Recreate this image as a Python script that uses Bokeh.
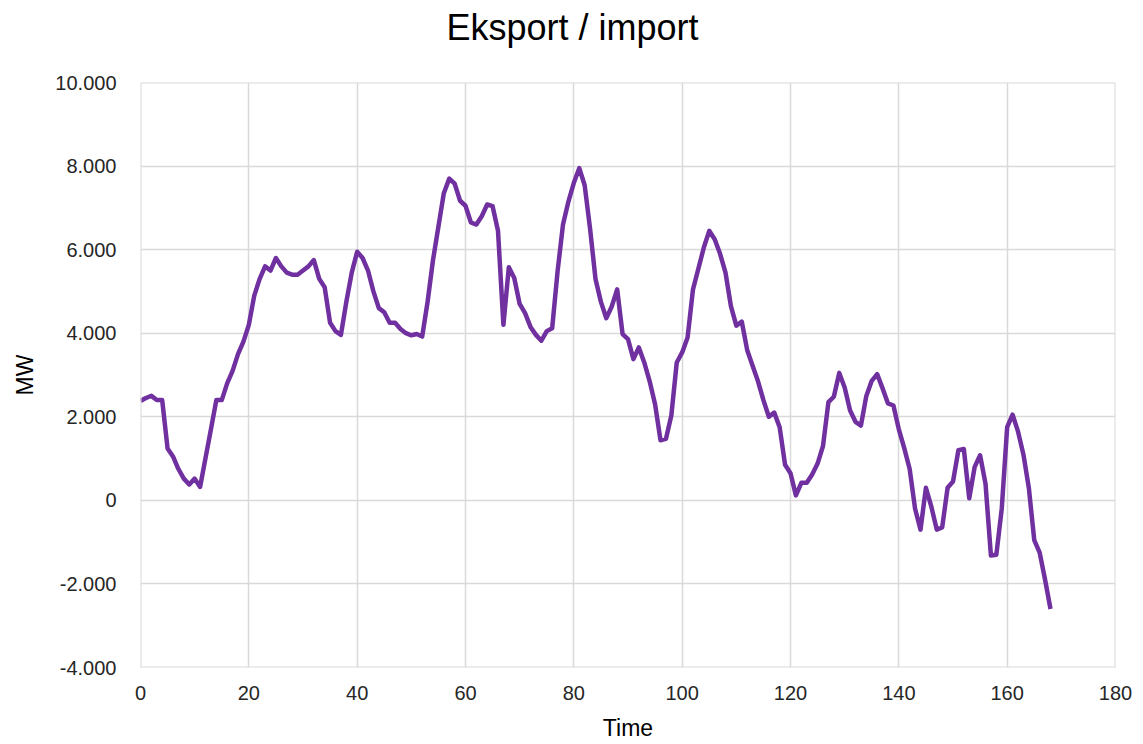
from bokeh.plotting import figure
from bokeh.models import Range1d, FixedTicker, ColumnDataSource, Span
from bokeh.embed import file_html
from bokeh.resources import INLINE

hours = list(range(169))
mw = [
    2380, 2450, 2500, 2400, 2400, 1240, 1050, 750, 520, 380,
    520, 320, 1010, 1700, 2400, 2400, 2800, 3100, 3500, 3800,
    4200, 4900, 5300, 5600, 5500, 5800, 5600, 5450, 5400, 5400,
    5500, 5600, 5750, 5300, 5100, 4250, 4050, 3960, 4750, 5450,
    5950, 5800, 5500, 5000, 4600, 4500, 4250, 4250, 4100, 4000,
    3950, 3980, 3920, 4750, 5750, 6550, 7350, 7700, 7580, 7170,
    7050, 6650, 6600, 6800, 7080, 7040, 6450, 4200, 5580, 5320,
    4700, 4480, 4150, 3960, 3820, 4050, 4120, 5480, 6600, 7150,
    7600, 7950, 7540, 6500, 5300, 4750, 4360, 4640, 5050, 3980,
    3860, 3380, 3660, 3300, 2850, 2300, 1440, 1470, 2030, 3300,
    3540, 3900, 5050, 5550, 6050, 6450, 6250, 5900, 5450, 4650,
    4180, 4280, 3600, 3220, 2850, 2400, 2000, 2100, 1750, 850,
    650, 120, 420, 420, 620, 880, 1300, 2350, 2480, 3050,
    2700, 2150, 1880, 1790, 2500, 2860, 3020, 2680, 2320, 2270,
    1700, 1250, 750, -200, -700, 300, -150, -700, -650, 300,
    450, 1200, 1230, 50, 800, 1080, 400, -1320, -1300, -200,
    1750, 2050, 1650, 1100, 300, -950, -1250, -1900, -2600,
]
x_ticks = [0, 20, 40, 60, 80, 100, 120, 140, 160, 180]
y_ticks = [-4000, -2000, 0, 2000, 4000, 6000, 8000, 10000]
y_tick_labels = ["-4.000", "-2.000", "0", "2.000", "4.000", "6.000", "8.000", "10.000"]
title_text = "Eksport / import"

FONT = "Liberation Sans"
GRID = "#d9d9d9"

p = figure(width=1143, height=744, output_backend="svg", toolbar_location=None,
           x_range=Range1d(0, 180), y_range=Range1d(-4000, 10000),
           min_border_left=140, min_border_right=28, min_border_top=82, min_border_bottom=77)
p.outline_line_color = None
p.background_fill_color = "white"
p.border_fill_color = "white"

# a blank second line gives the title box extra height below the text,
# which lifts the visible title towards the top of the page
p.title.text = title_text + "\n "
p.title.align = "left"
p.title.vertical_align = "top"
p.title.offset = 306
p.title.text_font = FONT
p.title.text_font_size = "36px"
p.title.text_font_style = "normal"
p.title.text_color = "#000000"
p.title.standoff = -16

p.xgrid.ticker = FixedTicker(ticks=x_ticks)
p.ygrid.ticker = FixedTicker(ticks=y_ticks)
p.xgrid.grid_line_color = GRID
p.ygrid.grid_line_color = GRID
p.xgrid.grid_line_width = 1.5
p.ygrid.grid_line_width = 1.5

for loc in (x_ticks[0], x_ticks[-1]):
    p.add_layout(Span(location=loc, dimension="height", line_color=GRID, line_width=2))
for loc in (y_ticks[0], y_ticks[-1]):
    p.add_layout(Span(location=loc, dimension="width", line_color=GRID, line_width=2))

src = ColumnDataSource(dict(x=hours, y=mw))
p.line("x", "y", source=src, line_color="#7030A0", line_width=4.5, line_join="round")

for ax in (p.xaxis[0], p.yaxis[0]):
    ax.axis_line_color = None
    ax.major_tick_line_color = None
    ax.minor_tick_line_color = None
    ax.major_label_text_font = FONT
    ax.major_label_text_font_size = "20px"
    ax.major_label_text_color = "#262626"
    ax.axis_label_text_font = FONT
    ax.axis_label_text_font_size = "23px"
    ax.axis_label_text_font_style = "normal"
    ax.axis_label_text_color = "#000000"

p.xaxis.ticker = FixedTicker(ticks=x_ticks)
p.yaxis.ticker = FixedTicker(ticks=y_ticks)
p.yaxis.major_label_overrides = {t: l for t, l in zip(y_ticks, y_tick_labels)}
p.xaxis.axis_label = "Time"
p.yaxis.axis_label = "MW"
p.xaxis.major_label_standoff = 12
p.yaxis.major_label_standoff = 18
p.xaxis.axis_label_standoff = 12
p.yaxis.axis_label_standoff = 14

open("out.html", "w").write(file_html(p, INLINE))
